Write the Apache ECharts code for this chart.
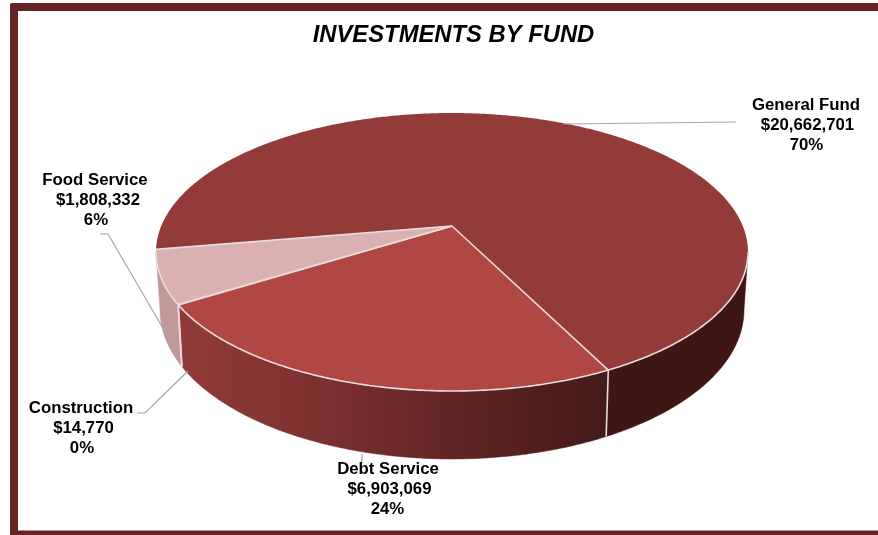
<!DOCTYPE html>
<html><head><meta charset="utf-8">
<style>html,body{margin:0;padding:0;background:#fff}#c{width:878px;height:535px}</style>
<script src="https://cdn.jsdelivr.net/npm/echarts@6/dist/echarts.min.js"></script>
</head><body><div id="c"></div>
<script>
const titleText = 'INVESTMENTS BY FUND';
const funds = ['General Fund', 'Debt Service', 'Construction', 'Food Service'];
const amounts = [20662701, 6903069, 14770, 1808332];
const amountLabels = ['$20,662,701', '$6,903,069', '$14,770', '$1,808,332'];
const percentLabels = ['70%', '24%', '0%', '6%'];

// layout and styles, separate from the data
const topColors = ['#933b38', '#b04745', '#c9a0a0', '#dbb0b0'];
const wallColors = ['#3e1714', null, '#c09a99', '#c09a99'];
const debtWall = [[0, '#903b37'], [0.35, '#7a302e'], [0.65, '#5f2423'], [1, '#451a18']];
const labelCentres = [[806, 105], [388, 469], [81, 408], [95, 180]];
const amountShift = [1.5, 1.5, 2.5, 3];
const percentShift = [0.5, -0.5, 1, 1];
const leaders = [
  [[563, 124], [736, 122]],
  [[362, 454], [362, 463]],
  [[137, 413], [145, 413], [188, 371]],
  [[100, 234], [108, 234], [171, 342]]
];
const startAngle = -99.7;
const topE = {cx: 452, cy: 252, rx: 296, ry: 139};
const botE = {cx: 452, cy: 310, rx: 292, ry: 149};
const k = -0.187;  // perspective shift of the pie's centre
const rimColor = '#e9dcdc';

const total = amounts.reduce((a, b) => a + b, 0);
const bounds = [startAngle];
amounts.forEach((v, i) => bounds.push(bounds[i] + v / total * 360));

// angle on the pie (clockwise from 12 o'clock) -> angle on the drawn ellipse
function phi(deg) {
  const a = deg * Math.PI / 180, u = Math.sin(a), v = -Math.cos(a);
  const d = 1 + k * v;
  return Math.atan2((v + k) / d, u * Math.sqrt(1 - k * k) / d);
}
const pt = (e, p) => [e.cx + e.rx * Math.cos(p), e.cy + e.ry * Math.sin(p)];
const apex = [topE.cx, topE.cy + topE.ry * k];
function arc(e, a0, a1) {
  const out = [], n = Math.max(2, Math.ceil((a1 - a0) / 0.5));
  for (let i = 0; i <= n; i++) out.push(pt(e, phi(a0 + (a1 - a0) * i / n)));
  return out;
}
// the part of a slice's arc facing the viewer (ellipse angle between 0 and pi)
function frontRange(i) {
  let a0 = bounds[i], a1 = bounds[i + 1], s = null, e = null;
  const n = Math.max(2, Math.ceil((a1 - a0) / 0.1));
  for (let j = 0; j <= n; j++) {
    const a = a0 + (a1 - a0) * j / n, p = phi(a);
    if (p >= 0 && p <= Math.PI) { if (s === null) s = a; e = a; }
  }
  return s === null ? null : [s, e];
}
const line = (pts, color, width) => ({type: 'polyline', shape: {points: pts},
  style: {stroke: color, lineWidth: width, fill: null}, silent: true});

function wallItem(params) {
  const i = params.dataIndex, r = frontRange(i);
  if (!r) return {type: 'group', children: []};
  const upper = arc(topE, r[0], r[1]), lower = arc(botE, r[0], r[1]).reverse();
  const fill = wallColors[i] || {type: 'linear', x: 185, y: 0, x2: 605, y2: 0, global: true,
    colorStops: debtWall.map(s => ({offset: s[0], color: s[1]}))};
  return {type: 'polygon', shape: {points: upper.concat(lower)}, style: {fill: fill, stroke: fill, lineWidth: 0.5}};
}
function topItem(params) {
  const i = params.dataIndex;
  const a = arc(topE, bounds[i], bounds[i + 1]);
  return {type: 'polygon', shape: {points: [apex].concat(a)}, style: {fill: topColors[i]}};
}
function rimItem(params) {
  const i = params.dataIndex, kids = [];
  const r = frontRange(i);
  if (r) kids.push(line(arc(topE, r[0], r[1]), rimColor, 1.6));
  const p = phi(bounds[i]);
  kids.push(line([apex, pt(topE, p)], rimColor, 1.6));
  if (p >= 0 && p <= Math.PI) kids.push(line([pt(topE, p), pt(botE, p)], rimColor, 1.6));
  return {type: 'group', children: kids};
}
function labelItem(params) {
  const i = params.dataIndex, c = labelCentres[i];
  const kids = [line(leaders[i], '#a6a6a6', 1.2)];
  const dx = [0, amountShift[i], percentShift[i]];
  [funds[i], amountLabels[i], percentLabels[i]].forEach((t, j) => kids.push({
    type: 'text', x: c[0] + dx[j], y: c[1] + j * 20,
    style: {text: t, fill: '#000', font: 'bold 16.8px "Liberation Sans", Arial, sans-serif', align: 'center', verticalAlign: 'middle'}
  }));
  return {type: 'group', children: kids};
}
const customSeries = fn => ({type: 'custom', coordinateSystem: 'none', renderItem: fn,
  data: funds.map((f, i) => ({name: f, value: amounts[i]})), silent: true, animation: false, clip: false});

const chart = echarts.init(document.getElementById('c'), null, {renderer: 'canvas'});
chart.setOption({
  animation: false,
  backgroundColor: '#fff',
  title: {text: titleText, left: 448.5, top: 18, textAlign: 'center',
    textStyle: {fontFamily: '"Liberation Sans", Arial, sans-serif', fontSize: 23.8, fontWeight: 'bold', fontStyle: 'italic', color: '#000'}},
  graphic: [
    {type: 'rect', z: -1, shape: {x: 10, y: 3, width: 880, height: 540, r: 2}, style: {fill: '#662524'}},
    {type: 'rect', z: -1, shape: {x: 18, y: 11, width: 870, height: 519.5}, style: {fill: '#fff'}}
  ],
  series: [customSeries(wallItem), customSeries(topItem), customSeries(rimItem), customSeries(labelItem)]
});
</script></body></html>
